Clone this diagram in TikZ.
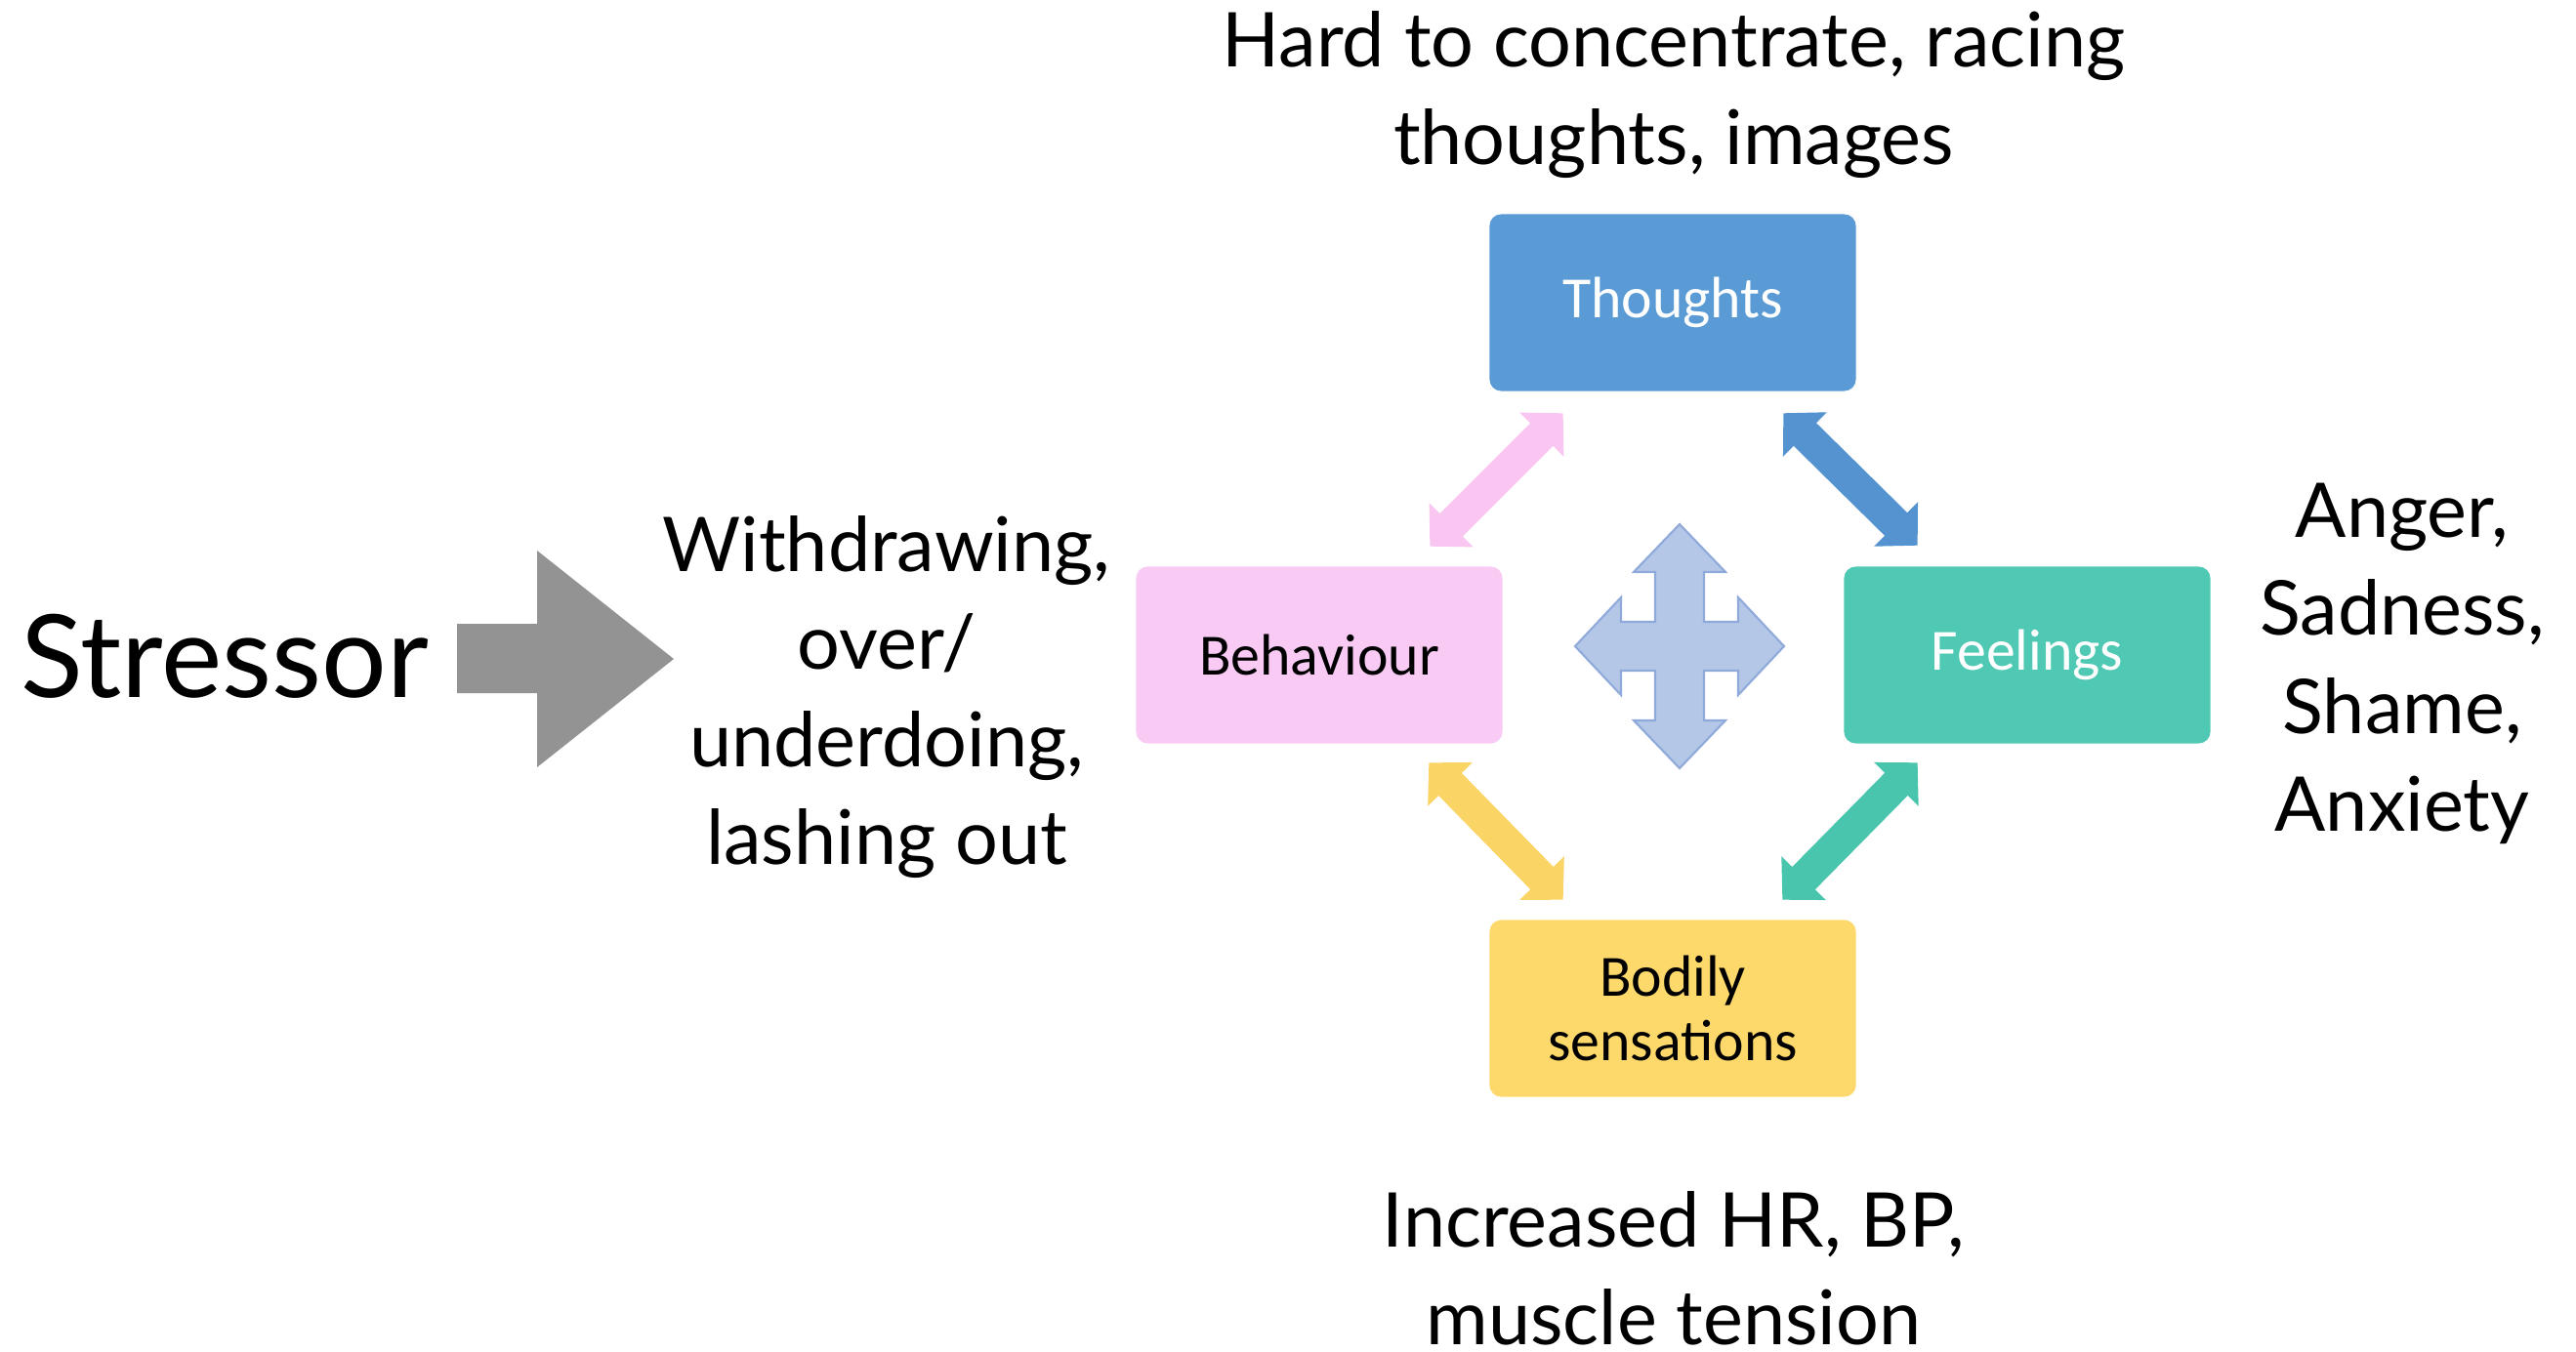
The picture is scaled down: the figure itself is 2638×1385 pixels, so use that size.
\documentclass[tikz,border=0pt]{standalone}
\usepackage{fontspec}
\setmainfont{Lato}
\newfontfamily\boxfont{Carlito}
\usetikzlibrary{arrows.meta,calc}

\definecolor{thoughtblue}{RGB}{91,155,213}
\definecolor{feelteal}{RGB}{80,201,180}
\definecolor{behavpink}{RGB}{248,202,244}
\definecolor{bodyyellow}{RGB}{253,216,106}
\definecolor{pinkarrow}{RGB}{248,198,240}
\definecolor{bluearrow}{RGB}{84,147,208}
\definecolor{yellowarrow}{RGB}{250,212,100}
\definecolor{tealarrow}{RGB}{72,197,172}
\definecolor{crossfill}{RGB}{180,199,231}
\definecolor{crossline}{RGB}{143,170,218}
\definecolor{stressgray}{RGB}{147,147,147}

\begin{document}
\begin{tikzpicture}[
    x=0.01cm, y=-0.01cm,
    box/.style={rounded corners=0.12cm, minimum width=3.75cm, minimum height=1.81cm,
        inner sep=0pt, align=center, font=\boxfont\fontsize{17}{19}\selectfont},
    note/.style={align=center, inner sep=0pt, font=\fontsize{22}{28.5}\selectfont},
    dbl/.style={line width=0.33cm,
        {Triangle[length=0.31cm,width=0.62cm]}-{Triangle[length=0.31cm,width=0.62cm]}},
  ]
  \useasboundingbox (0,0) rectangle (2638,1385);

  % the four boxes
  \node[box, fill=thoughtblue, text=white] (thoughts) at (1713,310) {Thoughts};
  \node[box, fill=behavpink] (behav) at (1351,671) {Behaviour};
  \node[box, fill=feelteal, text=white] (feel) at (2076,671) {Feelings};
  \node[box, fill=bodyyellow] (body) at (1713,1033) {Bodily\\sensations};

  % double arrows between the boxes
  \draw[dbl, pinkarrow] ($(behav.north east)+(-75,-20)$) -- ($(thoughts.south west)+(76,22)$);
  \draw[dbl, bluearrow] ($(thoughts.south east)+(-75,22)$) -- ($(feel.north west)+(76,-21)$);
  \draw[dbl, yellowarrow] ($(behav.south east)+(-76,19)$) -- ($(body.north west)+(76,-20)$);
  \draw[dbl, tealarrow] ($(feel.south west)+(76,19)$) -- ($(body.north east)+(-76,-20)$);

  % four-way arrow in the middle
  \coordinate (mid) at (1720,662);
  \draw[fill=crossfill, draw=crossline, line width=0.6pt, shift={(mid)}]
    (0,-125) -- (47,-76) -- (25,-76) -- (25,-25) -- (60,-25) -- (60,-50) -- (107,0)
    -- (60,50) -- (60,25) -- (25,25) -- (25,76) -- (47,76) -- (0,125) -- (-47,76)
    -- (-25,76) -- (-25,25) -- (-60,25) -- (-60,50) -- (-107,0) -- (-60,-50)
    -- (-60,-25) -- (-25,-25) -- (-25,-76) -- (-47,-76) -- cycle;

  % stressor and its arrow
  \node[inner sep=0pt, font=\fontsize{33.5}{38}\selectfont] (stressor) at (230,672) {Stressor};
  \fill[stressgray] (468,639) -- (550,639) -- (550,564) -- (690,675) -- (550,786)
    -- (550,710) -- (468,710) -- cycle;

  % notes round the cycle
  \node[note] (thinklbl) at (1714,97) {Hard to concentrate, racing\\thoughts, images};
  \node[note] (actlbl) at (908,714) {Withdrawing,\\over/\\underdoing,\\lashing out};
  \node[note] (feellbl) at (2460,680) {Anger,\\Sadness,\\Shame,\\Anxiety};
  \node[note] (bodylbl) at (1714,1299) {Increased HR, BP,\\muscle tension};
\end{tikzpicture}
\end{document}
